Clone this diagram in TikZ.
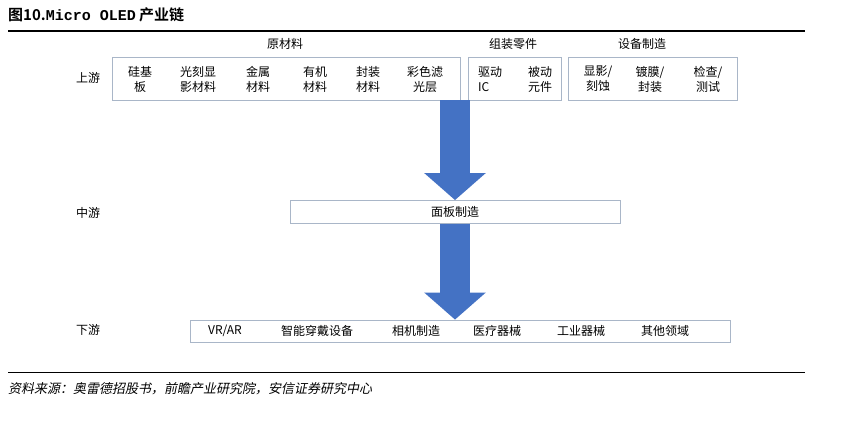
\documentclass[tikz,border=0pt]{standalone}
\usepackage{fontspec}
\setmainfont{Noto Sans CJK SC}
\newfontfamily\titlefont{Noto Sans CJK SC Bold}
\newfontfamily\monofont{Liberation Mono}
\newfontfamily\notefont[FakeSlant=0.2]{Noto Sans CJK SC}
\usetikzlibrary{arrows.meta}
\definecolor{boxline}{HTML}{A9B6C8}
\definecolor{flowblue}{HTML}{4472C4}
\begin{document}
\begin{tikzpicture}[
            x=1pt, y=-1pt,
            every node/.style={font=\fontsize{12}{14}\selectfont, inner sep=0pt},
            group box/.style={draw=boxline, thick},
            item/.style={align=center, font=\fontsize{12}{15}\selectfont},
            flow/.style={draw=flowblue, line width=30pt, -{Triangle[length=27pt,width=60pt]}},
        ]
            \useasboundingbox (0,0) rectangle (863,427);
            % title and rules
            \node[anchor=west, font=\titlefont\fontsize{15}{17}\selectfont] (title) at (8,15) {图10.{\monofont\bfseries Micro OLED} 产业链};
            \draw[line width=1.2pt] (8,31) -- (805,31);
            \draw[line width=0.8pt] (8,372) -- (805,372);
            \node[anchor=west, font=\notefont\fontsize{13}{15}\selectfont] (note) at (8,389) {资料来源：奥雷德招股书，前瞻产业研究院，安信证券研究中心};

            % stage labels
            \node (up) at (88,78) {上游};
            \node (mid) at (88,213) {中游};
            \node (down) at (88,330) {下游};

            % upstream
            \node (raw) at (285,44) {原材料};
            \node (parts) at (513,44) {组装零件};
            \node (equip) at (642,44) {设备制造};
            \draw[group box] (112,57) rectangle (460,100);
            \draw[group box] (468,57) rectangle (561,100);
            \draw[group box] (568,57) rectangle (737,100);
            \node[item] (si) at (140,79) {硅基\\板};
            \node[item] (photo) at (198,79) {光刻显\\影材料};
            \node[item] (metal) at (258,79) {金属\\材料};
            \node[item] (organic) at (315,79) {有机\\材料};
            \node[item] (pack) at (368,79) {封装\\材料};
            \node[item] (filter) at (425,79) {彩色滤\\光层};
            \node[item, align=left] (drive) at (490,79) {驱动\\IC};
            \node[item] (passive) at (540,79) {被动\\元件};
            \node[item] (etch) at (598,79) {显影/\\刻蚀};
            \node[item] (coat) at (650,79) {镀膜/\\封装};
            \node[item] (test) at (708,79) {检查/\\测试};

            % midstream
            \node[group box, minimum width=330pt, minimum height=23pt] (panel) at (455,212) {面板制造};

            % downstream
            \node[group box, minimum width=540pt, minimum height=22pt] (apps) at (460,331) {};
            \node (vr) at (225,331) {VR/AR};
            \node (wear) at (317,331) {智能穿戴设备};
            \node (camera) at (416,331) {相机制造};
            \node (medical) at (497,331) {医疗器械};
            \node (industry) at (581,331) {工业器械};
            \node (other) at (665,331) {其他领域};

            % flow arrows
            \coordinate (top end) at (455,100);
            \coordinate (apps top) at (panel.south |- apps.north);
            \draw[flow] (top end) -- (panel.north);
            \draw[flow] (panel.south) -- (apps top);
        \end{tikzpicture}
\end{document}
